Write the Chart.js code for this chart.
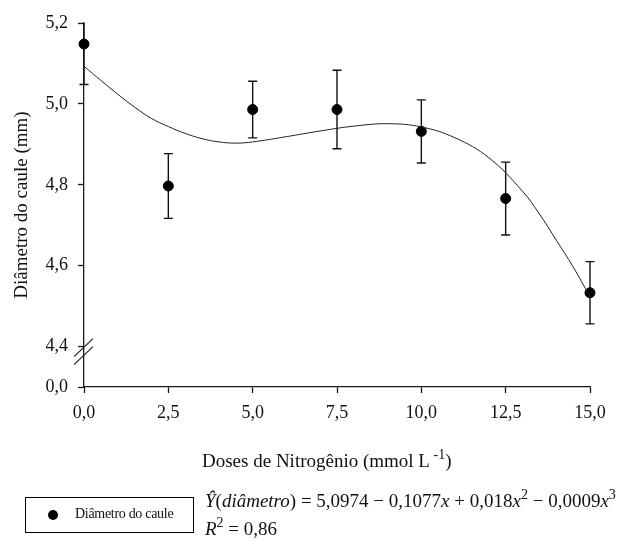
<!DOCTYPE html>
<html>
<head>
<meta charset="utf-8">
<script src="https://cdn.jsdelivr.net/npm/chart.js@4"></script>
<style>
    body { margin: 0; background: #fff; }
    #wrap { position: relative; width: 619px; height: 541px; font-family: "Liberation Serif", "Times New Roman", serif; color: #111; }
    #chart { position: absolute; left: 0; top: 0; }
    .txt { position: absolute; white-space: nowrap; line-height: 1; }
    #x-title { left: 202px; top: 448px; font-size: 19px; }
    #x-title sup { font-size: 14px; vertical-align: 8px; }
    #legend-box { position: absolute; left: 25px; top: 497px; width: 167px; height: 34px; border: 1px solid #000; }
    #legend-dot { position: absolute; left: 22px; top: 12px; width: 10px; height: 10px; border-radius: 50%; background: #000; }
    #legend-label { position: absolute; left: 49px; top: 9px; font-size: 14px; letter-spacing: -0.3px; }
    #equation { left: 205px; top: 488px; font-size: 19px; }
    #r2 { left: 205px; top: 516px; font-size: 19px; }
    #equation sup, #r2 sup { font-size: 14px; vertical-align: 8px; }
</style>
</head>
<body>
<div id="wrap">
    <canvas id="chart" width="619" height="541"></canvas>
    <div id="x-title" class="txt">Doses de Nitrogênio (mmol L<sup> -1</sup>)</div>
    <div id="legend-box">
        <div id="legend-dot"></div>
        <div id="legend-label" class="txt">Diâmetro do caule</div>
    </div>
    <div id="equation" class="txt"><i>Ŷ</i>(<i>diâmetro</i>) = 5,0974 − 0,1077<i>x</i> + 0,018<i>x</i><sup>2</sup> − 0,0009<i>x</i><sup>3</sup></div>
    <div id="r2" class="txt"><i>R</i><sup>2</sup> = 0,86</div>
</div>
<script>
// measured points (mean +/- error)
const doses = [0, 2.5, 5, 7.5, 10, 12.5, 15];
const diametro = [5.148, 4.797, 4.986, 4.986, 4.932, 4.766, 4.533];
const erro = [0.10, 0.08, 0.07, 0.097, 0.078, 0.09, 0.077];

// fitted curve
const curvaX = [0, 0.5, 1, 1.5, 2, 2.5, 3, 3.5, 4, 4.5, 5, 6, 7, 8, 9, 10, 11, 12, 13, 13.5, 14, 14.5, 15];
const curvaY = [5.093, 5.058, 5.024, 4.992, 4.964, 4.944, 4.927, 4.914, 4.906, 4.903, 4.906, 4.919, 4.933, 4.945, 4.951, 4.943, 4.916, 4.867, 4.784, 4.728, 4.663, 4.597, 4.523];

// y axis is broken: bottom tick stands for 0,0
const yTicks = [4.4, 4.6, 4.8, 5.0, 5.2];
const yBreakValue = 4.3;
const yBreakLabel = '0,0';

const fontFamily = '"Liberation Serif", "Times New Roman", serif';
const axisColor = '#1a1a1a';

function comma (value) {
    return value.toFixed(1).replace('.', ',');
}

const errorBars = {
    id: 'errorBars',
    beforeDatasetsDraw (chart) {
        const { ctx, chartArea, scales } = chart;
        ctx.save();
        ctx.beginPath();
        ctx.rect(chartArea.left - 10, chartArea.top, chartArea.right - chartArea.left + 20, chartArea.bottom - chartArea.top);
        ctx.clip();
        ctx.strokeStyle = '#111';
        ctx.lineWidth = 1.4;
        doses.forEach((dose, i) => {
            const x = scales.x.getPixelForValue(dose);
            const top = scales.y.getPixelForValue(diametro[i] + erro[i]);
            const bottom = scales.y.getPixelForValue(diametro[i] - erro[i]);
            ctx.beginPath();
            ctx.moveTo(x, top);
            ctx.lineTo(x, bottom);
            ctx.moveTo(x - 4.5, top);
            ctx.lineTo(x + 4.5, top);
            ctx.moveTo(x - 4.5, bottom);
            ctx.lineTo(x + 4.5, bottom);
            ctx.stroke();
        });
        ctx.restore();
    }
};

const axisBreak = {
    id: 'axisBreak',
    afterDraw (chart) {
        const { ctx, scales } = chart;
        const x = scales.x.getPixelForValue(0);
        const y = scales.y.getPixelForValue(4.4) + 5;
        ctx.save();
        ctx.strokeStyle = axisColor;
        ctx.lineWidth = 1.1;
        [-4, 4].forEach(offset => {
            ctx.beginPath();
            ctx.moveTo(x - 10, y + offset + 9);
            ctx.lineTo(x + 9, y + offset - 9);
            ctx.stroke();
        });
        ctx.restore();
    }
};

new Chart(
    document.getElementById('chart'),
    {
        type: 'scatter',
        data: {
            datasets: [
                {
                    label: 'Ajuste',
                    data: curvaX.map((x, i) => ({ x, y: curvaY[i] })),
                    showLine: true,
                    tension: 0.4,
                    borderColor: '#222',
                    borderWidth: 1,
                    pointRadius: 0
                },
                {
                    label: 'Diâmetro do caule',
                    data: doses.map((x, i) => ({ x, y: diametro[i] })),
                    backgroundColor: '#000',
                    borderColor: '#000',
                    pointRadius: 5,
                    clip: false
                }
            ]
        },
        options: {
            responsive: false,
            animation: false,
            layout: {
                padding: { left: 0, top: 23, right: 29, bottom: 114 }
            },
            plugins: {
                legend: { display: false },
                tooltip: { enabled: false }
            },
            scales: {
                x: {
                    type: 'linear',
                    min: 0,
                    max: 15,
                    afterFit: scale => { scale.height = 40; },
                    border: { color: axisColor, width: 1.3 },
                    grid: { drawOnChartArea: false, color: axisColor, tickLength: 6, tickWidth: 1.3 },
                    ticks: {
                        stepSize: 2.5,
                        padding: 9,
                        color: '#111',
                        font: { family: fontFamily, size: 18 },
                        callback: value => comma(value)
                    }
                },
                y: {
                    type: 'linear',
                    min: yBreakValue,
                    max: 5.2,
                    afterFit: scale => { scale.width = 84; },
                    afterBuildTicks: scale => {
                        scale.ticks = [yBreakValue, ...yTicks].map(value => ({ value }));
                    },
                    border: { color: axisColor, width: 1.3 },
                    grid: { drawOnChartArea: false, color: axisColor, tickLength: 6, tickWidth: 1.3 },
                    ticks: {
                        padding: 10,
                        color: '#111',
                        font: { family: fontFamily, size: 18 },
                        callback: value => value === yBreakValue ? yBreakLabel : comma(value)
                    },
                    title: {
                        display: true,
                        text: 'Diâmetro do caule (mm)',
                        color: '#111',
                        padding: { top: 11, bottom: 0 },
                        font: { family: fontFamily, size: 19 }
                    }
                }
            }
        },
        plugins: [errorBars, axisBreak]
    }
);
</script>
</body>
</html>
